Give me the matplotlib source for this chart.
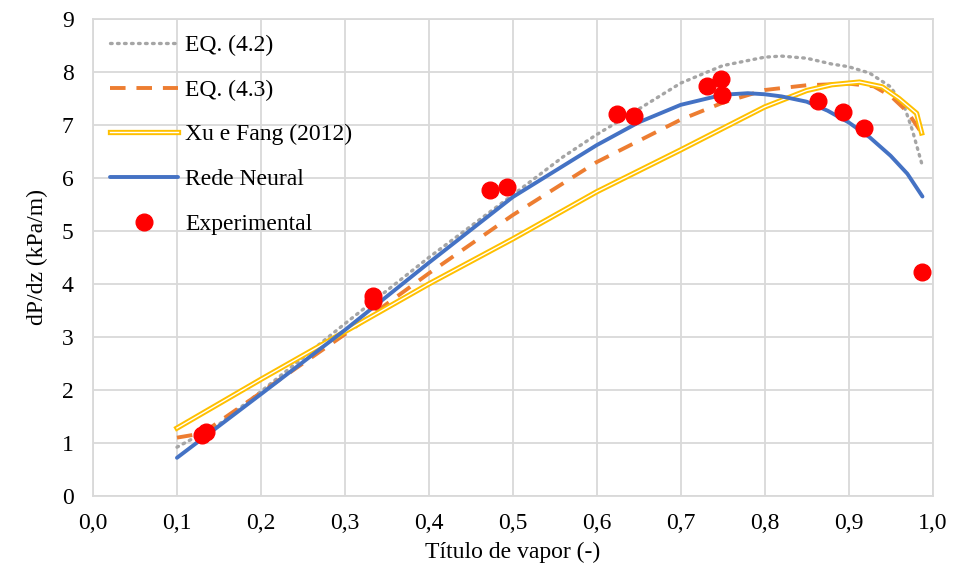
import matplotlib
matplotlib.use("Agg")
import matplotlib.pyplot as plt
import matplotlib.patheffects as pe
from matplotlib.ticker import FuncFormatter

plt.rcParams['font.family'] = ['Liberation Serif', 'DejaVu Serif']

# EQ. (4.2)
x42 = [0.1, 0.15, 0.2, 0.3, 0.4, 0.5, 0.56, 0.6, 0.65, 0.7, 0.75, 0.8, 0.82, 0.85,
       0.88, 0.9, 0.925, 0.95, 0.967, 0.976, 0.987]
y42 = [0.92, 1.35, 1.97, 3.25, 4.5, 5.68, 6.4, 6.82, 7.3, 7.79, 8.12, 8.28, 8.3, 8.26,
       8.15, 8.1, 7.98, 7.72, 7.32, 6.9, 6.28]

# EQ. (4.3)
x43 = [0.1, 0.13, 0.2, 0.3, 0.4, 0.5, 0.6, 0.7, 0.75, 0.8, 0.85, 0.9, 0.93, 0.95, 0.97, 0.987]
y43 = [1.1, 1.18, 1.95, 3.05, 4.2, 5.3, 6.3, 7.1, 7.42, 7.66, 7.75, 7.78, 7.73, 7.55, 7.25, 6.85]

# Xu e Fang (2012)
xxu = [0.1, 0.2, 0.3, 0.4, 0.5, 0.6, 0.7, 0.8, 0.85, 0.88, 0.913, 0.94, 0.96, 0.981, 0.987]
yxu = [1.28, 2.2, 3.1, 4.0, 4.85, 5.74, 6.53, 7.34, 7.65, 7.76, 7.81, 7.72, 7.5, 7.22, 6.85]

# Rede Neural
xrn = [0.1, 0.2, 0.3, 0.4, 0.5, 0.6, 0.65, 0.7, 0.75, 0.78, 0.8, 0.82, 0.85, 0.875,
       0.9, 0.925, 0.95, 0.97, 0.988]
yrn = [0.72, 1.92, 3.13, 4.4, 5.64, 6.62, 7.05, 7.38, 7.57, 7.6, 7.58, 7.54, 7.44, 7.27,
       7.05, 6.77, 6.42, 6.08, 5.65]

# Experimental
xexp = [0.130, 0.134, 0.333, 0.333, 0.473, 0.493, 0.624, 0.644, 0.731, 0.748, 0.749,
        0.863, 0.893, 0.918, 0.987]
yexp = [1.15, 1.2, 3.78, 3.68, 5.77, 5.83, 7.21, 7.17, 7.74, 7.87, 7.57,
        7.45, 7.25, 6.94, 4.23]

fig = plt.figure(figsize=(9.54, 5.76), dpi=100)
ax = fig.add_axes([0.0975, 0.139, 0.88, 0.828])

ax.plot(x42, y42, color='#A5A5A5', lw=2.4, linestyle=(0, (0.5, 1.6)),
        dash_capstyle='round', label='EQ. (4.2)')
ax.plot(x43, y43, color='#ED7D31', lw=2.8, linestyle=(0, (4.0, 2.8)),
        label='EQ. (4.3)')
ax.plot(xxu, yxu, color='white', lw=1.0, label='Xu e Fang (2012)',
        path_effects=[pe.Stroke(linewidth=3.8, foreground='#FFC000'), pe.Normal()])
ax.plot(xrn, yrn, color='#4472C4', lw=2.8, solid_capstyle='round', label='Rede Neural')
ax.plot(xexp, yexp, 'o', color='#FF0000', ms=12, label='Experimental')

ax.set_xlim(0, 1.0)
ax.set_ylim(0, 9)
ax.set_xticks([i / 10 for i in range(11)])
ax.set_yticks(range(10))
ax.xaxis.set_major_formatter(FuncFormatter(lambda v, p: f"{v:.1f}".replace('.', ',')))
ax.grid(True, color='#D9D9D9', lw=1.3)
ax.set_axisbelow(True)
for s in ax.spines.values():
    s.set_color('#D9D9D9')
    s.set_linewidth(1.3)
ax.tick_params(length=0, labelsize=17, pad=12)
ax.tick_params(axis='y', pad=14)

ax.set_xlabel('Título de vapor (-)', fontsize=17, labelpad=6)
ax.set_ylabel('dP/dz (kPa/m)', fontsize=17, labelpad=10)

ax.legend(loc='upper left', frameon=False, fontsize=17, handlelength=2.9,
          handletextpad=0.3, labelspacing=0.98, borderaxespad=0.3,
          bbox_to_anchor=(0.0, 1.002))

fig.savefig('out.png', dpi=100)
